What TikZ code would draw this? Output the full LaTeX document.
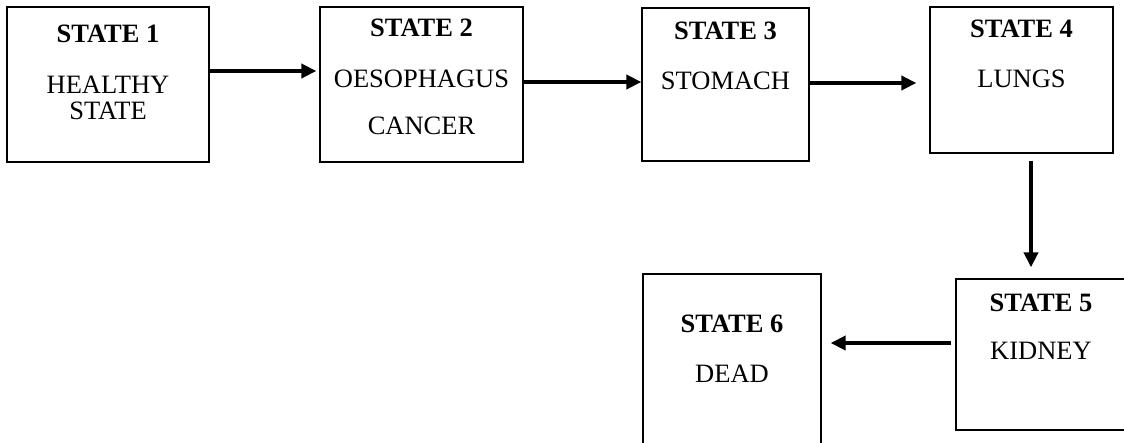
\documentclass[tikz,border=0pt]{standalone}
\usepackage{fontspec}
\setmainfont{Liberation Serif}
\usetikzlibrary{arrows.meta,positioning}

\begin{document}
\begin{tikzpicture}[x=1pt,y=-1pt,
    box/.style={draw, line width=1.3pt, inner sep=0pt},
    title/.style={font=\fontsize{26.5}{26}\selectfont\bfseries, anchor=base, inner sep=0pt},
    body/.style={font=\fontsize{26.5}{26}\selectfont, anchor=base, align=center, inner sep=0pt},
    arr/.style={-{Triangle[length=15pt,width=14pt]}, line width=4.5pt}]
    \useasboundingbox (0,0) rectangle (1124,442);
    % Draw the states
    \node[box, minimum width=202pt, minimum height=155pt] (s1) at (108,84.5) {};
    \node[box, minimum width=203pt, minimum height=155pt] (s2) at (421.5,84.5) {};
    \node[box, minimum width=167pt, minimum height=153pt] (s3) at (725.5,84.5) {};
    \node[box, minimum width=183pt, minimum height=146pt] (s4) at (1021.5,80) {};
    \node[box, minimum width=170pt, minimum height=151pt] (s5) at (1041,354.5) {};
    \node[box, minimum width=178pt, minimum height=186pt] (s6) at (732,367) {};
    % Labels (a body's base is its last line)
    \node[title] (t1) at ([yshift=-36pt]s1.north) {STATE 1};
    \node[body] (b1) at ([yshift=-77pt]t1.base) {HEALTHY\\STATE};
    \node[title] (t2) at ([yshift=-30pt]s2.north) {STATE 2};
    \node[body] (b2) at ([yshift=-98pt]t2.base) {OESOPHAGUS\\[21pt]CANCER};
    \node[title] (t3) at ([yshift=-32pt]s3.north) {STATE 3};
    \node[body] (b3) at ([yshift=-50pt]t3.base) {STOMACH};
    \node[title] (t4) at ([yshift=-31pt]s4.north) {STATE 4};
    \node[body] (b4) at ([yshift=-50pt]t4.base) {LUNGS};
    \node[title] (t5) at ([yshift=-33pt]s5.north) {STATE 5};
    \node[body] (b5) at ([yshift=-48pt]t5.base) {KIDNEY};
    \node[title] (t6) at ([yshift=-59pt]s6.north) {STATE 6};
    \node[body] (b6) at ([yshift=-50pt]t6.base) {DEAD};
    % Transitions
    \draw[arr, shorten >=3pt] ([yshift=13.5pt]s1.east) -- ([yshift=13.5pt]s1.east -| s2.west);
    \draw[arr] ([yshift=2.5pt]s2.east) -- ([yshift=2.5pt]s2.east -| s3.west);
    \draw[arr, shorten >=13pt] ([yshift=1.5pt]s3.east) -- ([yshift=1.5pt]s3.east -| s4.west);
    \draw[arr, shorten <=7pt, shorten >=11pt] ([xshift=9.5pt]s4.south) -- ([xshift=9.5pt]s4.south |- s5.north);
    \draw[arr, shorten <=4pt, shorten >=9pt] ([yshift=11.5pt]s5.west) -- ([yshift=11.5pt]s5.west -| s6.east);
\end{tikzpicture}
\end{document}
